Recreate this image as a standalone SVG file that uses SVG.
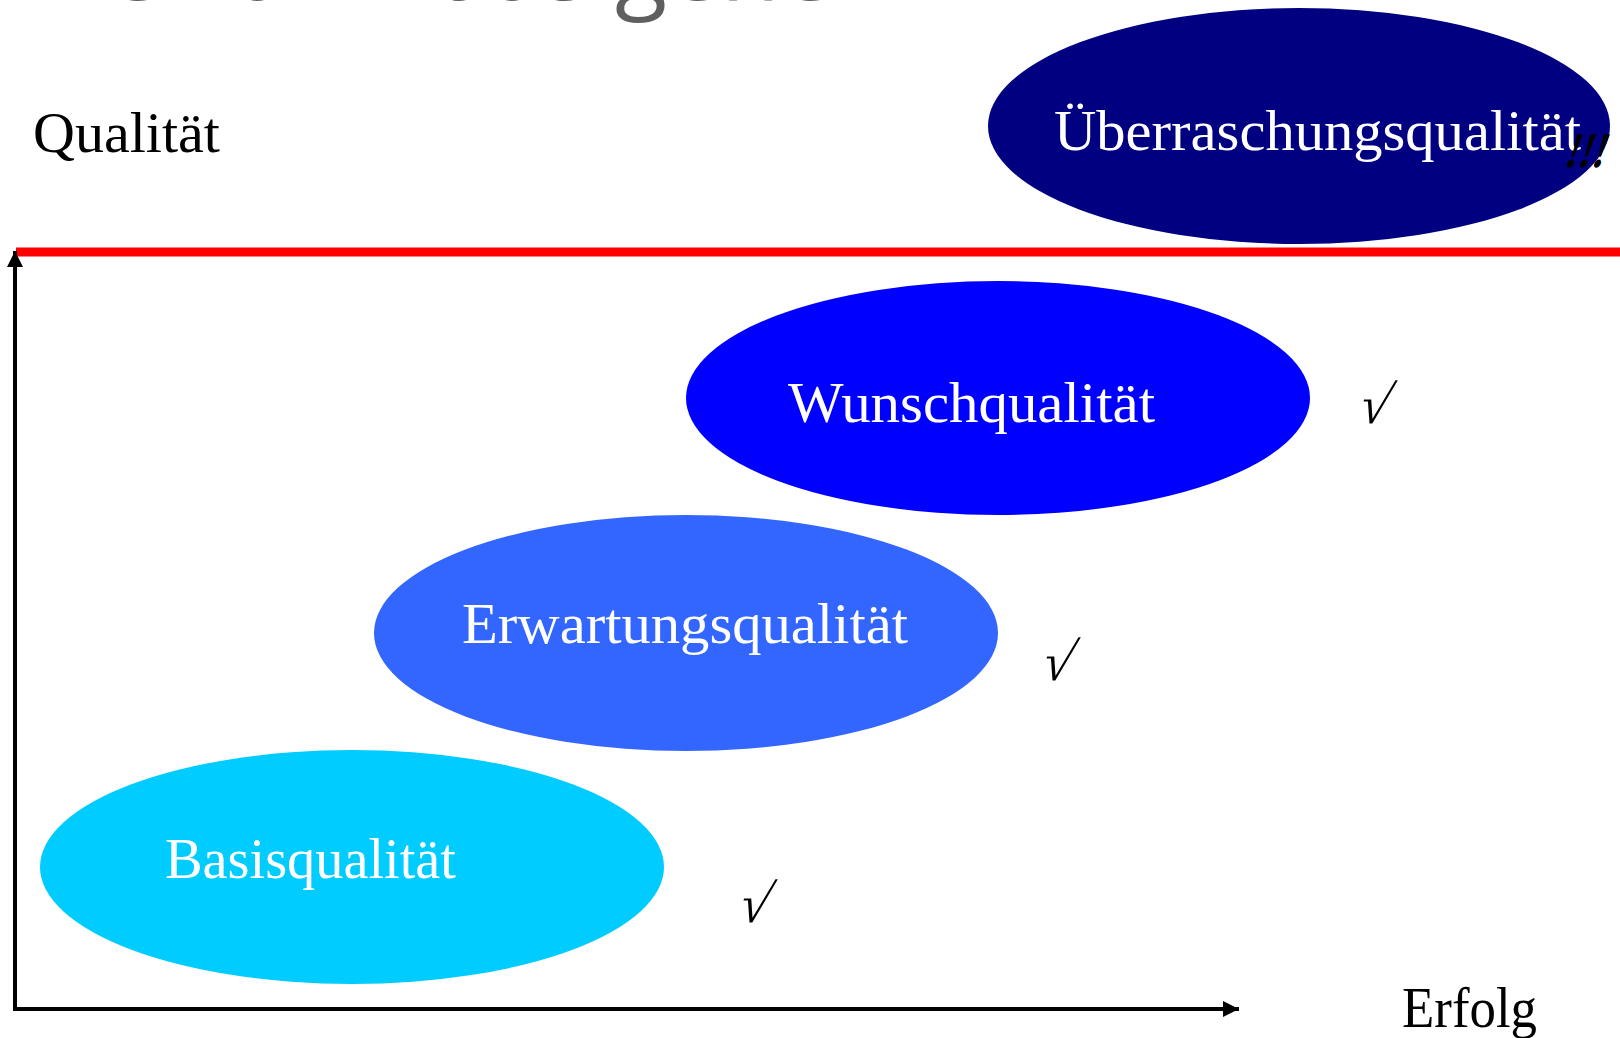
<svg xmlns="http://www.w3.org/2000/svg" width="1620" height="1038" viewBox="0 0 1620 1038">
<style>
.lbl{font-family:"Liberation Serif","DejaVu Serif",serif;font-size:58px;fill:#ffffff}
.blk{font-family:"Liberation Serif","DejaVu Serif",serif;font-size:58px;fill:#000000}
.chk{font-family:"Liberation Serif","DejaVu Serif",serif;font-size:54px;fill:#000000}
.ttl{font-family:"Open Sans","Liberation Sans",sans-serif;font-size:96px;fill:#5f5f5f}
</style>
<defs>
<marker id="ah" viewBox="0 0 16 16" refX="16" refY="8" markerWidth="16" markerHeight="16" markerUnits="userSpaceOnUse" orient="auto">
<path d="M0,0 L16,8 L0,16 Z" fill="#000"/>
</marker>
</defs>
<rect width="1620" height="1038" fill="#ffffff"/>
<text class="ttl" x="-6" y="0">Wie kann das gehen</text>
<text class="blk" x="33" y="152" textLength="187" lengthAdjust="spacingAndGlyphs">Qualität</text>
<text class="blk" x="1402" y="1027" textLength="135" lengthAdjust="spacingAndGlyphs">Erfolg</text>
<g id="connectors">
<line x1="16" y1="252" x2="1620" y2="252" stroke="#ff0000" stroke-width="9"/>
<line x1="15" y1="1009" x2="15" y2="251" stroke="#000" stroke-width="4" marker-end="url(#ah)"/>
<line x1="13" y1="1009" x2="1239" y2="1009" stroke="#000" stroke-width="4" marker-end="url(#ah)"/>
</g>
<g id="ueberraschung">
<ellipse cx="1299" cy="126" rx="311" ry="118" fill="#000080"/>
<text class="lbl" x="1054" y="150" textLength="527" lengthAdjust="spacingAndGlyphs">Überraschungsqualität</text>
<text transform="translate(1563,167) skewX(-18)" font-family="Liberation Serif,serif" font-size="50" font-weight="bold" fill="#000" textLength="40" lengthAdjust="spacingAndGlyphs">!!!</text>
</g>
<g id="wunsch">
<ellipse cx="998" cy="398" rx="312" ry="117" fill="#0000ff"/>
<text class="lbl" x="788" y="422" textLength="367" lengthAdjust="spacingAndGlyphs">Wunschqualität</text>
<text class="chk" transform="translate(1356,423) skewX(-16)">√</text>
</g>
<g id="erwartung">
<ellipse cx="686" cy="633" rx="312" ry="118" fill="#3366ff"/>
<text class="lbl" x="462" y="643" textLength="446" lengthAdjust="spacingAndGlyphs">Erwartungsqualität</text>
<text class="chk" transform="translate(1039,680) skewX(-16)">√</text>
</g>
<g id="basis">
<ellipse cx="352" cy="867" rx="312" ry="117" fill="#00ccff"/>
<text class="lbl" x="165" y="878" textLength="291" lengthAdjust="spacingAndGlyphs">Basisqualität</text>
<text class="chk" transform="translate(736,922) skewX(-16)">√</text>
</g>
</svg>
